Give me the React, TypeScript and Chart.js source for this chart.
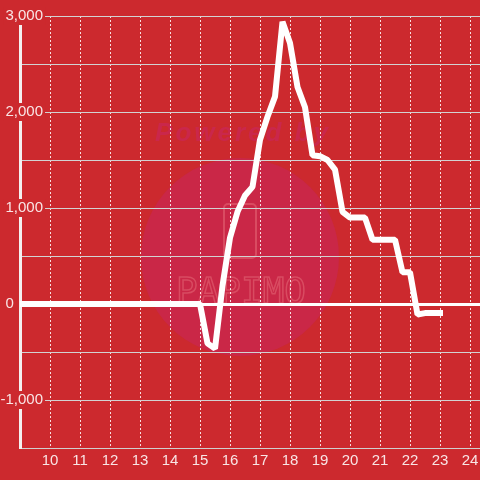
import React, { useEffect, useRef } from 'react';
import { Chart, registerables } from 'chart.js';

Chart.register(...registerables);

const xValues = [9, 15, 15.25, 15.5, 15.75, 16, 16.25, 16.5, 16.75, 17, 17.25, 17.5, 17.75, 18, 18.25, 18.5, 18.75, 19, 19.25, 19.5, 19.75, 20, 20.25, 20.5, 20.75, 21, 21.25, 21.5, 21.75, 22, 22.25, 22.5, 22.75, 23];
const yValues = [0, 0, -410, -465, 190, 690, 960, 1130, 1220, 1710, 1950, 2160, 2940, 2720, 2260, 2050, 1550, 1540, 1500, 1400, 960, 900, 900, 900, 670, 670, 670, 670, 330, 330, -110, -95, -95, -95];
const xTickValues = [10, 11, 12, 13, 14, 15, 16, 17, 18, 19, 20, 21, 22, 23, 24];
const yLabelValues = [-1000, 0, 1000, 2000, 3000];

const BG = '#cc292e';

const watermark = {
  id: 'watermark',
  beforeDraw(chart: any) {
    const ctx = chart.ctx;
    ctx.save();
    ctx.fillStyle = 'rgba(200,38,95,0.5)';
    ctx.beginPath();
    ctx.arc(240, 257, 99, 0, Math.PI * 2);
    ctx.fill();
    ctx.font = 'italic bold 26px "Liberation Sans", Arial, sans-serif';
    (ctx as any).letterSpacing = '3px';
    ctx.textAlign = 'center';
    ctx.textBaseline = 'middle';
    ctx.fillStyle = 'rgba(200,38,95,0.6)';
    ctx.fillText('Powered by', 243, 134);
    (ctx as any).letterSpacing = '0px';
    ctx.strokeStyle = 'rgba(235,120,130,0.45)';
    ctx.lineWidth = 2;
    ctx.beginPath();
    (ctx as any).roundRect(224, 204, 32, 54, 4);
    ctx.stroke();
    ctx.font = '36px "DejaVu Sans Mono", monospace';
    ctx.textBaseline = 'alphabetic';
    ctx.lineWidth = 1.5;
    ctx.strokeText('PAPIMO', 241, 303);
    ctx.restore();
  },
};

export default function App() {
  const ref = useRef<HTMLCanvasElement | null>(null);

  useEffect(() => {
    if (!ref.current) return;
    const chart = new Chart(ref.current, {
      type: 'line',
      data: {
        datasets: [
          {
            data: xValues.map((x, i) => ({ x, y: yValues[i] })),
            borderColor: '#ffffff',
            borderWidth: 6,
            borderCapStyle: 'square',
            borderJoinStyle: 'bevel',
            pointRadius: 0,
            tension: 0,
            fill: false,
          },
        ],
      },
      options: {
        animation: false,
        responsive: true,
        maintainAspectRatio: false,
        layout: { padding: { top: 16, left: 0, right: 0, bottom: 0 } },
        plugins: { legend: { display: false }, tooltip: { enabled: false } },
        scales: {
          x: {
            type: 'linear',
            min: 9,
            max: 24 + 1 / 3,
            afterBuildTicks: (scale: any) => {
              scale.ticks = xTickValues.map((v) => ({ value: v }));
            },
            afterFit: (scale: any) => {
              scale.height = 32;
              scale.paddingLeft = 0;
              scale.paddingRight = 0;
            },
            grid: { color: 'rgba(255,255,255,0.85)', lineWidth: 1, drawTicks: false },
            border: { display: true, color: '#cfcfcf', width: 1, dash: [2, 2] },
            ticks: {
              padding: 4,
              maxRotation: 0,
              autoSkip: false,
              color: 'rgba(255,255,255,0.88)',
              font: { family: '"Liberation Sans", Arial, sans-serif', size: 15 },
              callback: (v: any) => String(v),
            },
          },
          y: {
            type: 'linear',
            min: -1500,
            max: 3000,
            afterFit: (scale: any) => {
              scale.width = 20;
              scale.paddingTop = 0;
              scale.paddingBottom = 0;
            },
            grid: {
              drawTicks: false,
              color: (c: any) => (c.tick && c.tick.value === 0 ? '#ffffff' : '#d2d2d2'),
              lineWidth: (c: any) => (c.tick && c.tick.value === 0 ? 3 : 1),
            },
            border: { display: true, color: '#f4f0f0', width: 3 },
            ticks: {
              stepSize: 500,
              mirror: true,
              padding: -19.5,
              crossAlign: 'far',
              autoSkip: false,
              color: 'rgba(255,255,255,0.88)',
              font: { family: '"Liberation Sans", Arial, sans-serif', size: 15 },
              showLabelBackdrop: true,
              backdropPadding: { top: 0, bottom: 0, left: 2, right: 2 },
              backdropColor: (c: any) =>
                c.tick && c.tick.value !== 0 && yLabelValues.includes(c.tick.value) ? BG : 'rgba(0,0,0,0)',
              callback: (v: any) => {
                const n = Number(v);
                if (!yLabelValues.includes(n)) return '';
                if (n === 0) return '0       ';
                return n.toLocaleString('en-US');
              },
            },
          },
        },
      },
      plugins: [watermark],
    } as any);
    return () => chart.destroy();
  }, []);

  return (
    <div style={{ position: 'fixed', left: 0, top: 0, width: 480, height: 480, background: BG }}>
      <canvas ref={ref} />
    </div>
  );
}
